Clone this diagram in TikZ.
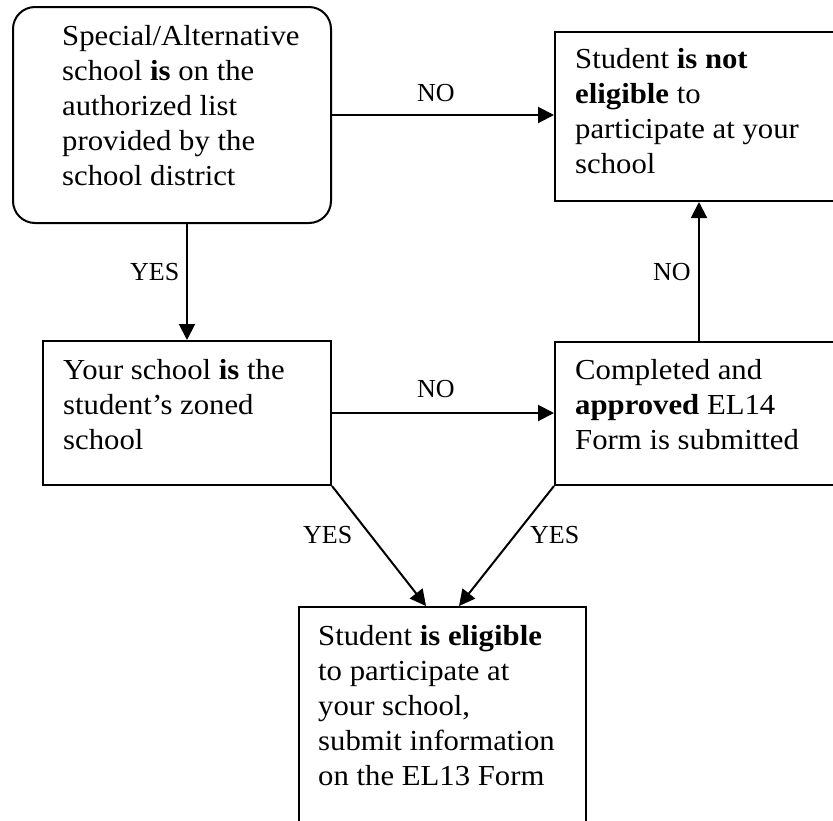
\documentclass[tikz,border=0pt]{standalone}
\usepackage{fontspec}
\setmainfont{Liberation Serif}
\newfontfamily\boxfont{Liberation Serif}[FakeStretch=1.06]
\usetikzlibrary{arrows.meta}

% multi-line text whose baseline is that of its first line
\newcommand{\stacktext}[1]{\parbox[t]{280pt}{\raggedright #1}}

\tikzset{
  box/.style={draw, line width=2pt, inner sep=0pt, anchor=north west},
  boxtext/.style={anchor=base west, inner sep=0pt,
    font=\boxfont\fontsize{29}{35}\selectfont},
  lbl/.style={anchor=base west, inner sep=0pt, font=\fontsize{26}{30}\selectfont},
  arr/.style={line width=2pt, -{Triangle[length=16pt,width=16pt]}}
}

\begin{document}
\begin{tikzpicture}[x=1pt,y=-1pt]
  \clip (0,0) rectangle (833,820);

  % decision and outcome boxes
  \node[box, rounded corners=22pt, minimum width=318pt, minimum height=216pt] (b1) at (12,6) {};
  \node[box, minimum width=288pt, minimum height=169pt] (b2) at (554,31) {};
  \node[box, minimum width=288pt, minimum height=144pt] (b3) at (42,340) {};
  \node[box, minimum width=288pt, minimum height=143pt] (b4) at (554,341) {};
  \node[box, minimum width=287pt, minimum height=240pt] (b5) at (298,606) {};

  % box texts
  \node[boxtext] (t1) at (62,45) {\stacktext{Special/Alternative\\school \textbf{is} on the\\authorized list\\provided by the\\school district}};
  \node[boxtext] (t2) at (575,68) {\stacktext{Student \textbf{is not}\\\textbf{eligible} to\\participate at your\\school}};
  \node[boxtext] (t3) at (63,379) {\stacktext{Your school \textbf{is} the\\student’s zoned\\school}};
  \node[boxtext] (t4) at (575,379) {\stacktext{Completed and\\\textbf{approved} EL14\\Form is submitted}};
  \node[boxtext] (t5) at (318,645) {\stacktext{Student \textbf{is eligible}\\to participate at\\your school,\\submit information\\on the EL13 Form}};

  % connectors
  \draw[arr] (b1.east) -- (b1.east -| b2.west);
  \draw[arr] (b3.north |- b1.south) -- (b3.north);
  \draw[arr] (b3.east) -- (b3.east -| b4.west);
  \draw[arr] (b4.north) -- (b4.north |- b2.south);
  \draw[arr] (b3.south east) -- ([xshift=-16.5pt]b5.north);
  \draw[arr] (b4.south west) -- ([xshift=16.5pt]b5.north);

  % connector labels
  \node[lbl] (l1) at (417,101) {NO};
  \node[lbl] (l2) at (130,280) {YES};
  \node[lbl] (l3) at (653,280) {NO};
  \node[lbl] (l4) at (417,397) {NO};
  \node[lbl] (l5) at (303,543) {YES};
  \node[lbl] (l6) at (530,543) {YES};
\end{tikzpicture}
\end{document}
